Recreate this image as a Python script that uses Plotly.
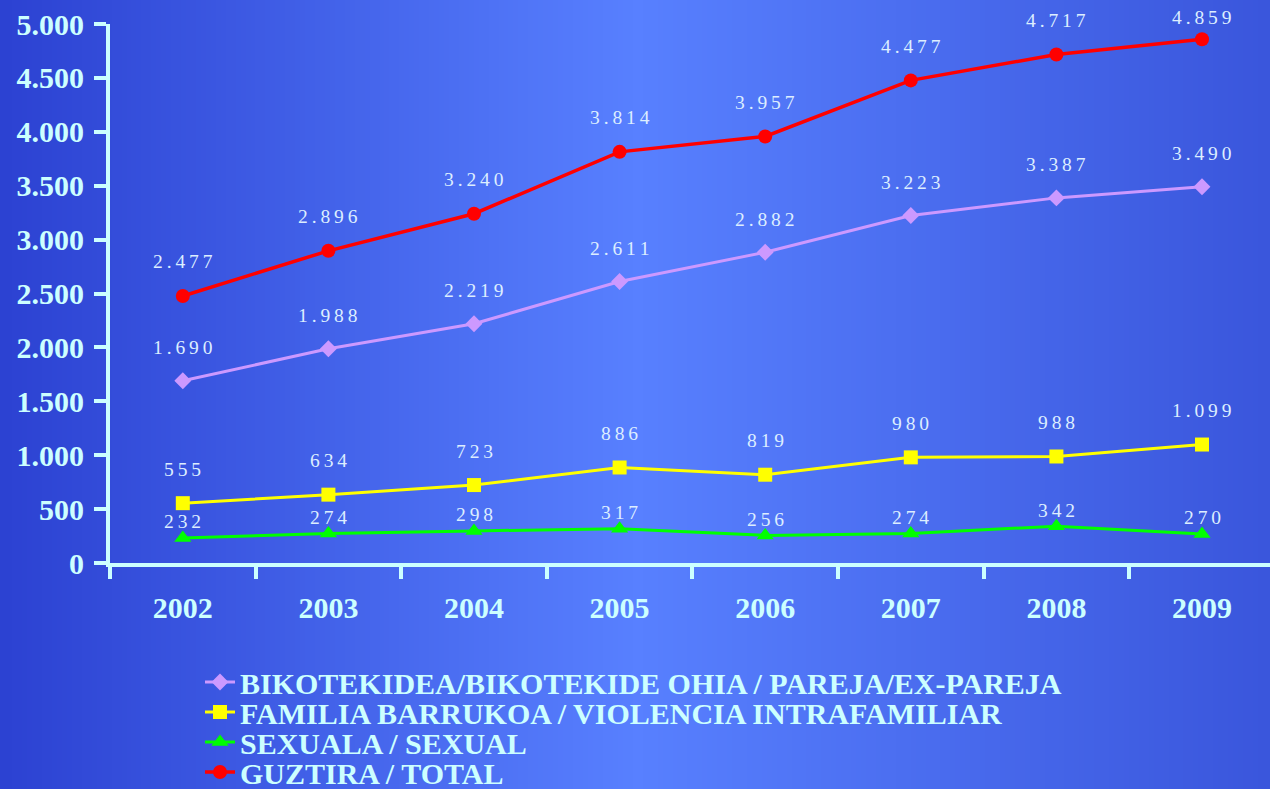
import plotly.graph_objects as go
import zlib, struct, base64

years = ["2002", "2003", "2004", "2005", "2006", "2007", "2008", "2009"]
pareja = [1690, 1988, 2219, 2611, 2882, 3223, 3387, 3490]
familia = [555, 634, 723, 886, 819, 980, 988, 1099]
sexual = [232, 274, 298, 317, 256, 274, 342, 270]
total = [2477, 2896, 3240, 3814, 3957, 4477, 4717, 4859]

names = [
    "BIKOTEKIDEA/BIKOTEKIDE OHIA / PAREJA/EX-PAREJA",
    "FAMILIA BARRUKOA / VIOLENCIA INTRAFAMILIAR",
    "SEXUALA / SEXUAL",
    "GUZTIRA / TOTAL",
]

# background gradient PNG
def make_png(w, h, stops):
    def col(t):
        for i in range(len(stops) - 1):
            t0, c0 = stops[i]
            t1, c1 = stops[i + 1]
            if t0 <= t <= t1:
                f = (t - t0) / (t1 - t0) if t1 > t0 else 0
                return tuple(int(round(c0[k] + (c1[k] - c0[k]) * f)) for k in range(3))
        return stops[-1][1]
    row = b"\x00" + b"".join(bytes(col(x / (w - 1))) for x in range(w))
    raw = row * h
    def chunk(t, d):
        c = struct.pack(">I", len(d)) + t + d
        return c + struct.pack(">I", zlib.crc32(t + d) & 0xffffffff)
    png = b"\x89PNG\r\n\x1a\n" + chunk(b"IHDR", struct.pack(">IIBBBBB", w, h, 8, 2, 0, 0, 0))
    png += chunk(b"IDAT", zlib.compress(raw)) + chunk(b"IEND", b"")
    return "data:image/png;base64," + base64.b64encode(png).decode()

bg = make_png(256, 1, [(0.0, (44, 66, 210)), (0.5, (88, 128, 255)), (1.0, (58, 86, 220))])

axis_col = "#ccffff"
label_col = "#ddeeff"
FONT = "Liberation Serif"
TOP, PLOT_H, YMAX = 24, 539, 5000

def fmt(v):
    s = f"{v:,}".replace(",", ".")
    return "\u2009".join(s)

series = [
    (pareja, names[0], "#cc99ff", "diamond", 13, 33, 3),
    (familia, names[1], "#ffff00", "square", 14, 34, 3),
    (sexual, names[2], "#00ff00", "triangle-up", 15, 16, 3),
    (total, names[3], "#ff0000", "circle", 14, 34, 3.5),
]
legend_rows = [682, 712, 742, 772]

fig = go.Figure()
annotations = []
legends = {}
for k, (vals, name, color, sym, size, shift, lw) in enumerate(series):
    lname = "legend" if k == 0 else f"legend{k + 1}"
    fig.add_trace(go.Scatter(
        x=years, y=vals, name=name, mode="lines+markers",
        line=dict(color=color, width=lw),
        marker=dict(symbol=sym, size=size, color=color),
        legend=lname,
    ))
    legends[lname] = dict(
        xref="container", yref="container",
        x=200 / 1270, y=1 - legend_rows[k] / 789,
        xanchor="left", yanchor="middle",
        bgcolor="rgba(0,0,0,0)", borderwidth=0,
        font=dict(family=FONT, size=30, color=axis_col, weight="bold"),
    )
    for i, v in enumerate(vals):
        # keep the label inside the figure (clamp near the top edge)
        py = TOP + (YMAX - v) * PLOT_H / YMAX
        s = min(shift, py - 17)
        annotations.append(dict(
            x=i, y=v, xref="x", yref="y", text=fmt(v), showarrow=False,
            yshift=s, font=dict(family=FONT, size=19.5, color=label_col),
        ))

fig.update_layout(
    width=1270, height=789,
    margin=dict(l=110, r=0, t=TOP, b=789 - TOP - PLOT_H, autoexpand=False),
    paper_bgcolor="#4060e8",
    plot_bgcolor="rgba(0,0,0,0)",
    separators=",.",
    annotations=annotations,
    images=[dict(
        source=bg, xref="paper", yref="paper",
        x=-110 / 1160, y=1 + TOP / PLOT_H, sizex=1270 / 1160, sizey=789 / PLOT_H,
        xanchor="left", yanchor="top", sizing="stretch", layer="below",
    )],
    showlegend=True,
    xaxis=dict(
        type="category", range=[-0.5, 7.467],
        showgrid=False, zeroline=False,
        showline=True, linecolor=axis_col, linewidth=4,
        ticks="outside", tickson="boundaries", ticklen=12, tickwidth=4, tickcolor=axis_col,
        tickfont=dict(family=FONT, size=30, color=axis_col, weight="bold"),
        ticklabelstandoff=15,
    ),
    yaxis=dict(
        range=[0, YMAX], tickvals=list(range(0, YMAX + 1, 500)),
        tickformat=",d",
        showgrid=False, zeroline=False,
        showline=True, linecolor=axis_col, linewidth=4,
        ticks="outside", ticklen=12, tickwidth=4, tickcolor=axis_col,
        tickfont=dict(family=FONT, size=30, color=axis_col, weight="bold"),
        ticklabelstandoff=4,
    ),
    **legends,
)

fig.write_html(
    "out.html",
    config={"displayModeBar": False},
    post_script="document.body.style.margin='0';document.body.style.overflow='hidden';",
)
